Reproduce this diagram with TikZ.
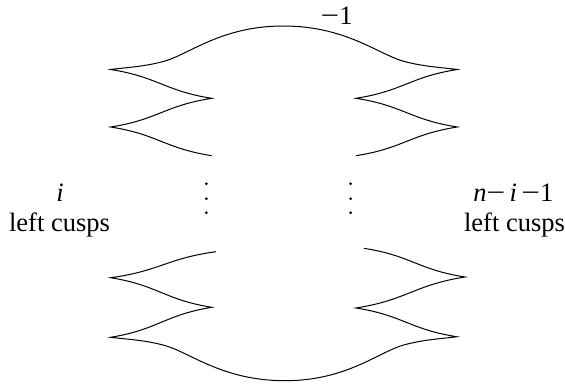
\documentclass[tikz,border=0pt]{standalone}
\usepackage{fontspec}
\setmainfont{Liberation Serif}
\usepackage{tikz}
\usetikzlibrary{positioning}
\newcommand{\wave}[4]{.. controls ({#1+0.47*(#3-#1)},{#2+0.26*(#4-#2)}) and ({#3-0.47*(#3-#1)},{#4-0.26*(#4-#2)}) .. (#3,#4)}
\newcommand{\mns}{\scalebox{1.25}[1]{−}}

\begin{document}
\begin{tikzpicture}[
  x=1pt, y=-1pt,
  front/.style={draw=black, line width=1pt, line join=miter, miter limit=20},
  lab/.style={font=\fontsize{26.5}{32}\selectfont, inner sep=0pt, anchor=base},
  dotmark/.style={circle, fill=black, inner sep=0pt, minimum size=3pt}
]
\useasboundingbox (0,0) rectangle (565,384);

% upper half
\draw[front] (211.7,155.7) \wave{211.7}{155.7}{110.7}{127} \wave{110.7}{127}{211.7}{98.3} \wave{211.7}{98.3}{110.7}{69.5}
  .. controls (125,67.5) and (145,66.8) .. (165,61)
  .. controls (190,53.7) and (222,26) .. (283.3,26)
  .. controls (345.2,26) and (377.5,53.7) .. (402.8,61)
  .. controls (423,66.8) and (443.2,67.5) .. (457.3,69.5)
  \wave{457.3}{69.5}{356}{98.3} \wave{356}{98.3}{457.3}{127} \wave{457.3}{127}{356}{155.7};

% lower half
\draw[front] (216,251.7) \wave{216}{251.7}{110.7}{277.7} \wave{110.7}{277.7}{211.7}{307.3} \wave{211.7}{307.3}{110.7}{337.3}
  .. controls (125.1,339.2) and (145.3,339.9) .. (165.5,345.7)
  .. controls (190.8,353) and (223,380.7) .. (285,380.7)
  .. controls (346,380.7) and (378,352.5) .. (403,345.2)
  .. controls (423,339.4) and (443,338.7) .. (456.7,336.7)
  \wave{456.7}{336.7}{356}{308} \wave{356}{308}{465}{277} \wave{465}{277}{364}{248.3};

% dots
\foreach \yy [count=\k] in {183.7,198.7,212.7} {
  \node[dotmark] (dl\k) at (206.3,\yy) {};
  \node[dotmark] (dr\k) at (350.7,\yy) {};
}

\node[lab] (minusone) at (336.7,24) {\mns1};
\node[lab] (ileft) at (60,201) {\textit{i}};
\node[lab] (cuspsleft) at (59.5,231.7) {left cusps};
\node[lab] (iright) at (513.3,201) {\textit{n}\mns\,\textit{i}\,\mns1};
\node[lab] (cuspsright) at (514.5,231.7) {left cusps};
\end{tikzpicture}
\end{document}
